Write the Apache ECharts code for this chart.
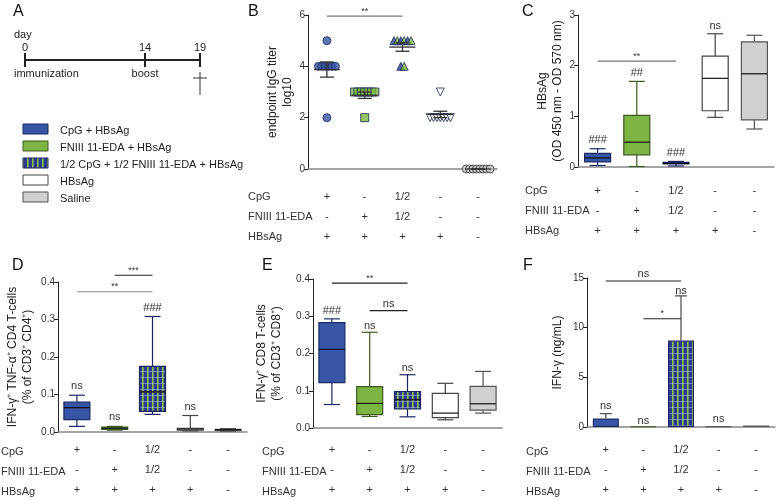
<!DOCTYPE html>
<html><head><meta charset="utf-8">
<script src="https://cdn.jsdelivr.net/npm/echarts@6/dist/echarts.min.js"></script>
<style>html,body{margin:0;padding:0;background:#fff}#c{width:777px;height:500px}</style>
</head><body><div id="c"></div>
<script>
// ---------- data ----------
const groups = ['CpG + HBsAg','FNIII 11-EDA + HBsAg','1/2 CpG + 1/2 FNIII 11-EDA + HBsAg','HBsAg','Saline'];
const rowNames = ['CpG','FNIII 11-EDA','HBsAg'];
const cpgRow = ['+','-','1/2','-','-'];
const fnRow  = ['-','+','1/2','-','-'];
const hbRow  = ['+','+','+','+','-'];
const timelineDays = ['0','14','19'];
const timelineEvents = ['immunization','boost'];

// B: endpoint IgG titer (log10), individual animals
const titerCpG = [5,4,4,4,4,4,4,2];
const titerFN  = [3,3,3,3,3,3,3,2];
const titerMix = [5,5,5,5,5,5,4,4];
const titerHBs = [3,2,2,2,2,2,2,2];
const titerSal = [0,0,0,0,0,0,0,0];
const bSig = [[0,2,5.96,'**']];

// C: HBsAg OD box plots [min,q1,median,q3,max]
const cBoxes = [[0.03,0.10,0.18,0.27,0.36],[0.01,0.24,0.49,1.02,1.69],[0.02,0.06,0.07,0.09,0.11],[0.98,1.11,1.75,2.19,2.63],[0.75,0.93,1.84,2.47,2.60]];
const cMarks = [[0,0.53,'###'],[1,1.86,'##'],[2,0.28,'###'],[3,2.78,'ns']];
const cSig = [[0,2,2.09,'**']];

// D: IFN-g+TNF-a+ CD4
const dBoxes = [[0.015,0.033,0.065,0.080,0.098],[0.005,0.007,0.010,0.013,0.015],[0.047,0.055,0.107,0.175,0.308],[0.003,0.005,0.008,0.010,0.044],[0.002,0.004,0.006,0.007,0.009]];
const dMarks = [[0,0.124,'ns'],[1,0.039,'ns'],[2,0.331,'###'],[3,0.066,'ns']];
const dSig = [[0,2,0.374,'**'],[1,2,0.418,'***']];

// E: IFN-g+ CD8
const eBoxes = [[0.063,0.122,0.211,0.283,0.293],[0.031,0.036,0.066,0.111,0.257],[0.030,0.051,0.076,0.098,0.143],[0.022,0.028,0.040,0.093,0.120],[0.040,0.048,0.065,0.112,0.152]];
const eMarks = [[0,0.315,'###'],[1,0.275,'ns'],[2,0.162,'ns']];
const eSig = [[0,2,0.389,'**'],[1,2,0.315,'ns']];

// F: IFN-g (ng/mL) mean + SEM
const fMean = [0.85,0.05,8.7,0.05,0.15];
const fSem  = [0.5,0,4.5,0,0];
const fMarks = [[0,2.1,'ns'],[1,0.6,'ns'],[2,13.7,'ns'],[3,0.8,'ns']];
const fSig = [[0,2,14.7,'ns'],[1,2,10.9,'*']];

// ---------- styles ----------
const FONT = '"Liberation Sans", Arial, Helvetica, sans-serif';
const TXT = '#222';
function stripes(plaid){
  const c = document.createElement('canvas'); c.width = 5; c.height = 6;
  const g = c.getContext('2d');
  g.fillStyle = '#2c3990'; g.fillRect(0,0,5,6);
  g.fillStyle = '#8cc43f'; g.fillRect(2,0,1.6,6);
  if (plaid){ g.fillStyle = 'rgba(190,210,255,0.45)'; g.fillRect(0,5,5,1); }
  return {image: c, repeat: 'repeat'};
}
const fills = ['#3754a5','#7db544',stripes(true),'#ffffff','#d0d0d0'];
const borders = ['#1d2c66','#3c5a1e','#1d2560','#444','#555'];

// ---------- helpers ----------
function yAx(gi, min, max, interval, name, gap, dec){
  return {type:'value', gridIndex:gi, min, max, interval, name, nameLocation:'middle', nameRotate:90, nameGap:gap,
    nameTextStyle:{fontSize:12, lineHeight:15, color:TXT, fontFamily:FONT},
    axisLine:{show:true, lineStyle:{color:'#222', width:1}},
    axisTick:{show:true, length:4, lineStyle:{color:'#222'}},
    axisLabel:{fontSize:10, color:'#333', margin:3, fontFamily:FONT, formatter: v => v.toFixed(dec)},
    splitLine:{show:false}};
}
function xAx(gi, margin){
  return {type:'category', gridIndex:gi, data:groups, boundaryGap:true,
    axisLine:{lineStyle:{color:'#888', width:1.5}}, axisTick:{show:false},
    axisLabel:{interval:0, fontSize:11, lineHeight:20, margin, color:'#333', fontFamily:FONT,
      formatter:(v,i)=> cpgRow[i]+'\n'+fnRow[i]+'\n'+hbRow[i]}};
}
function boxSeries(gi, boxes){
  return {type:'custom', xAxisIndex:gi, yAxisIndex:gi, clip:false, z:3,
    data: boxes.map((b,i)=>[i].concat(b)),
    encode:{x:0, y:[1,2,3,4,5]},
    renderItem:(p, api)=>{
      const i = p.dataIndex, b = boxes[i];
      const x = api.coord([i,0])[0];
      const y = v => api.coord([i,v])[1];
      const w = 26, cw = 16, st = borders[i];
      const ls = {stroke: st, lineWidth:1.2};
      return {type:'group', children:[
        {type:'line', shape:{x1:x,y1:y(b[0]),x2:x,y2:y(b[1])}, style:ls},
        {type:'line', shape:{x1:x,y1:y(b[3]),x2:x,y2:y(b[4])}, style:ls},
        {type:'line', shape:{x1:x-cw/2,y1:y(b[0]),x2:x+cw/2,y2:y(b[0])}, style:ls},
        {type:'line', shape:{x1:x-cw/2,y1:y(b[4]),x2:x+cw/2,y2:y(b[4])}, style:ls},
        {type:'rect', shape:{x:x-w/2,y:y(b[3]),width:w,height:Math.max(1,y(b[1])-y(b[3]))}, style:{fill:fills[i], stroke:st, lineWidth:1.2}},
        {type:'line', shape:{x1:x-w/2,y1:y(b[2]),x2:x+w/2,y2:y(b[2])}, style:{stroke:'#111', lineWidth:1.2}}
      ]};
    }};
}
function markSeries(gi, marks){
  return {type:'custom', xAxisIndex:gi, yAxisIndex:gi, clip:false, z:5,
    data: marks.map(m=>[m[0],m[1]]),
    renderItem:(p, api)=>{
      const m = marks[p.dataIndex]; const c = api.coord([m[0], m[1]]);
      return {type:'text', x:c[0], y:c[1], style:{text:m[2], fill:'#333', fontSize:11, fontFamily:FONT, align:'center', verticalAlign:'middle'}};
    }};
}
function sigSeries(gi, sig, colors){
  return {type:'custom', xAxisIndex:gi, yAxisIndex:gi, clip:false, z:5,
    data: sig.map(s=>[s[0],s[2]]),
    renderItem:(p, api)=>{
      const s = sig[p.dataIndex];
      const a = api.coord([s[0], s[2]]), b = api.coord([s[1], s[2]]);
      const col = colors ? colors[p.dataIndex] : '#444';
      const star = s[3].indexOf('*')>=0;
      return {type:'group', children:[
        {type:'line', shape:{x1:a[0],y1:a[1],x2:b[0],y2:b[1]}, style:{stroke:col, lineWidth:1.2}},
        {type:'text', x:(a[0]+b[0])/2, y:a[1]-(star?5:7), style:{text:s[3], fill:'#333', fontSize:star?9:11, fontFamily:FONT, align:'center', verticalAlign:'middle'}}
      ]};
    }};
}

// B scatter points + mean/SEM
const bGroups = [titerCpG, titerFN, titerMix, titerHBs, titerSal];
const bSymbols = ['circle','rect','triangle','triangle','circle'];
const bPoints = [];
bGroups.forEach((vals, i)=>{
  const counts = {}, seen = {};
  vals.forEach(v=>counts[v]=(counts[v]||0)+1);
  vals.forEach(v=>{
    const n = counts[v]; const j = (seen[v]=(seen[v]||0)+1)-1;
    const dx = (j-(n-1)/2)*3.4;
    let fill = ['#3754a5','#7db544',null,'#ffffff','#c8c8c8'][i];
    if (i===2) fill = j%2 ? '#7db544' : '#2f3f96';
    bPoints.push({value:[i, v], symbol:bSymbols[i], symbolRotate: i===3?180:0, symbolOffset:[dx,0],
      symbolSize: 8, itemStyle:{color:fill, borderColor:i===4?'#333':'#1c2a55', borderWidth:1}});
  });
});
const bStats = bGroups.map(vals=>{
  const n = vals.length, m = vals.reduce((a,b)=>a+b,0)/n;
  const sd = Math.sqrt(vals.reduce((a,b)=>a+(b-m)*(b-m),0)/(n-1));
  return [m, sd/Math.sqrt(n)];
});

const option = {
  animation:false,
  textStyle:{fontFamily:FONT},
  grid:[
    {left:308, top:15, width:189, height:154},
    {left:578, top:15, width:196, height:152},
    {left:58,  top:282, width:189, height:152},
    {left:313, top:279, width:189, height:151},
    {left:587, top:278, width:188, height:151}
  ],
  xAxis:[xAx(0,18), xAx(1,14), xAx(2,8), xAx(3,12), xAx(4,13)],
  yAxis:[
    yAx(0,0,6,2,'endpoint IgG titer\nlog10',12,0),
    yAx(1,0,3,1,'HBsAg\n(OD 450 nm - OD 570 nm)',10,0),
    yAx(2,0,0.4,0.1,'IFN-γ\u207A TNF-α\u207A CD4 T-cells\n(% of CD3\u207A CD4\u207A)',23,1),
    yAx(3,0,0.4,0.1,'IFN-γ\u207A CD8 T-cells\n(% of CD3\u207A CD8\u207A)',29,1),
    yAx(4,0,15,5,'IFN-γ (ng/mL)',22,0)
  ],
  series:[
    {type:'scatter', xAxisIndex:0, yAxisIndex:0, data:bPoints, z:2},
    {type:'custom', xAxisIndex:0, yAxisIndex:0, z:4, clip:false,
      data: bStats.map((s,i)=>[i, s[0], s[1]]),
      renderItem:(p, api)=>{
        const i = p.dataIndex, s = bStats[i];
        const x = api.coord([i,0])[0], y = v=>api.coord([i,v])[1];
        const ls = {stroke:'#333', lineWidth:1.3};
        return {type:'group', children:[
          {type:'line', shape:{x1:x-13,y1:y(s[0]),x2:x+13,y2:y(s[0])}, style:ls},
          {type:'line', shape:{x1:x,y1:y(s[0]-s[1]),x2:x,y2:y(s[0]+s[1])}, style:ls},
          {type:'line', shape:{x1:x-7,y1:y(s[0]-s[1]),x2:x+7,y2:y(s[0]-s[1])}, style:ls},
          {type:'line', shape:{x1:x-7,y1:y(s[0]+s[1]),x2:x+7,y2:y(s[0]+s[1])}, style:ls}
        ]};
      }},
    sigSeries(0, bSig, ['#777']),
    boxSeries(1, cBoxes), markSeries(1, cMarks), sigSeries(1, cSig, ['#777']),
    boxSeries(2, dBoxes), markSeries(2, dMarks), sigSeries(2, dSig, ['#888','#222']),
    boxSeries(3, eBoxes), markSeries(3, eMarks), sigSeries(3, eSig, ['#222','#222']),
    {type:'bar', xAxisIndex:4, yAxisIndex:4, barWidth:26, z:2,
      data: fMean.map((v,i)=>({value:v, itemStyle:{color:fills[i], borderColor:borders[i], borderWidth:1.2}}))},
    {type:'custom', xAxisIndex:4, yAxisIndex:4, z:4, clip:false,
      data: fMean.map((v,i)=>[i, v, v+fSem[i]]),
      renderItem:(p, api)=>{
        const i = p.dataIndex; if (!fSem[i]) return null;
        const x = api.coord([i,0])[0], y1 = api.coord([i,fMean[i]])[1], y2 = api.coord([i,fMean[i]+fSem[i]])[1];
        const ls = {stroke:'#555', lineWidth:1.3};
        return {type:'group', children:[
          {type:'line', shape:{x1:x,y1:y1,x2:x,y2:y2}, style:ls},
          {type:'line', shape:{x1:x-6,y1:y2,x2:x+6,y2:y2}, style:ls}
        ]};
      }},
    markSeries(4, fMarks), sigSeries(4, fSig, ['#222','#222'])
  ],
  graphic: []
};

// panel letters
const G = option.graphic;
[['A',13,4],['B',248,4],['C',522,4],['D',12,258],['E',262,258],['F',523,258]].forEach(l=>{
  G.push({type:'text', left:l[1], top:l[2], style:{text:l[0], fontSize:16, fill:'#111', fontFamily:FONT}});
});
// row headers
[[248,197],[525,191],[1,452],[262,452],[526,452]].forEach(r=>{
  rowNames.forEach((n,k)=>G.push({type:'text', x:r[0], y:r[1]+k*20, style:{text:n, fontSize:11, fill:'#333', fontFamily:FONT, verticalAlign:'middle'}}));
});
// panel A timeline
const tlX = [25,145,200], tlY = 60;
G.push({type:'line', shape:{x1:tlX[0],y1:tlY,x2:tlX[2],y2:tlY}, style:{stroke:'#222', lineWidth:2}});
tlX.forEach((x,k)=>{
  G.push({type:'line', shape:{x1:x,y1:tlY-7,x2:x,y2:tlY+7}, style:{stroke:'#222', lineWidth:2}});
  G.push({type:'text', x:x, y:tlY-12, style:{text:timelineDays[k], fontSize:11, fill:'#222', fontFamily:FONT, align:'center', verticalAlign:'middle'}});
});
G.push({type:'text', x:14, y:35, style:{text:'day', fontSize:11, fill:'#222', fontFamily:FONT, verticalAlign:'middle'}});
G.push({type:'text', x:14, y:74, style:{text:timelineEvents[0], fontSize:11, fill:'#222', fontFamily:FONT, verticalAlign:'middle'}});
G.push({type:'text', x:145, y:74, style:{text:timelineEvents[1], fontSize:11, fill:'#222', fontFamily:FONT, align:'center', verticalAlign:'middle'}});
G.push({type:'line', shape:{x1:200,y1:72,x2:200,y2:95}, style:{stroke:'#333', lineWidth:1}});
G.push({type:'line', shape:{x1:193,y1:78,x2:207,y2:78}, style:{stroke:'#333', lineWidth:1}});
// legend
const legendFills = ['#3754a5','#7db544',stripes(false),'#ffffff','#d0d0d0'];
groups.forEach((g,k)=>{
  const cy = 129 + k*17;
  G.push({type:'rect', shape:{x:23,y:cy-5,width:25,height:10}, style:{fill:legendFills[k], stroke:borders[k], lineWidth:1}});
  G.push({type:'text', x:60, y:cy+2, style:{text:g, fontSize:11, fill:'#222', fontFamily:FONT, verticalAlign:'middle'}});
});

const chart = echarts.init(document.getElementById('c'), null, {renderer:'canvas'});
chart.setOption(option);
</script></body></html>
